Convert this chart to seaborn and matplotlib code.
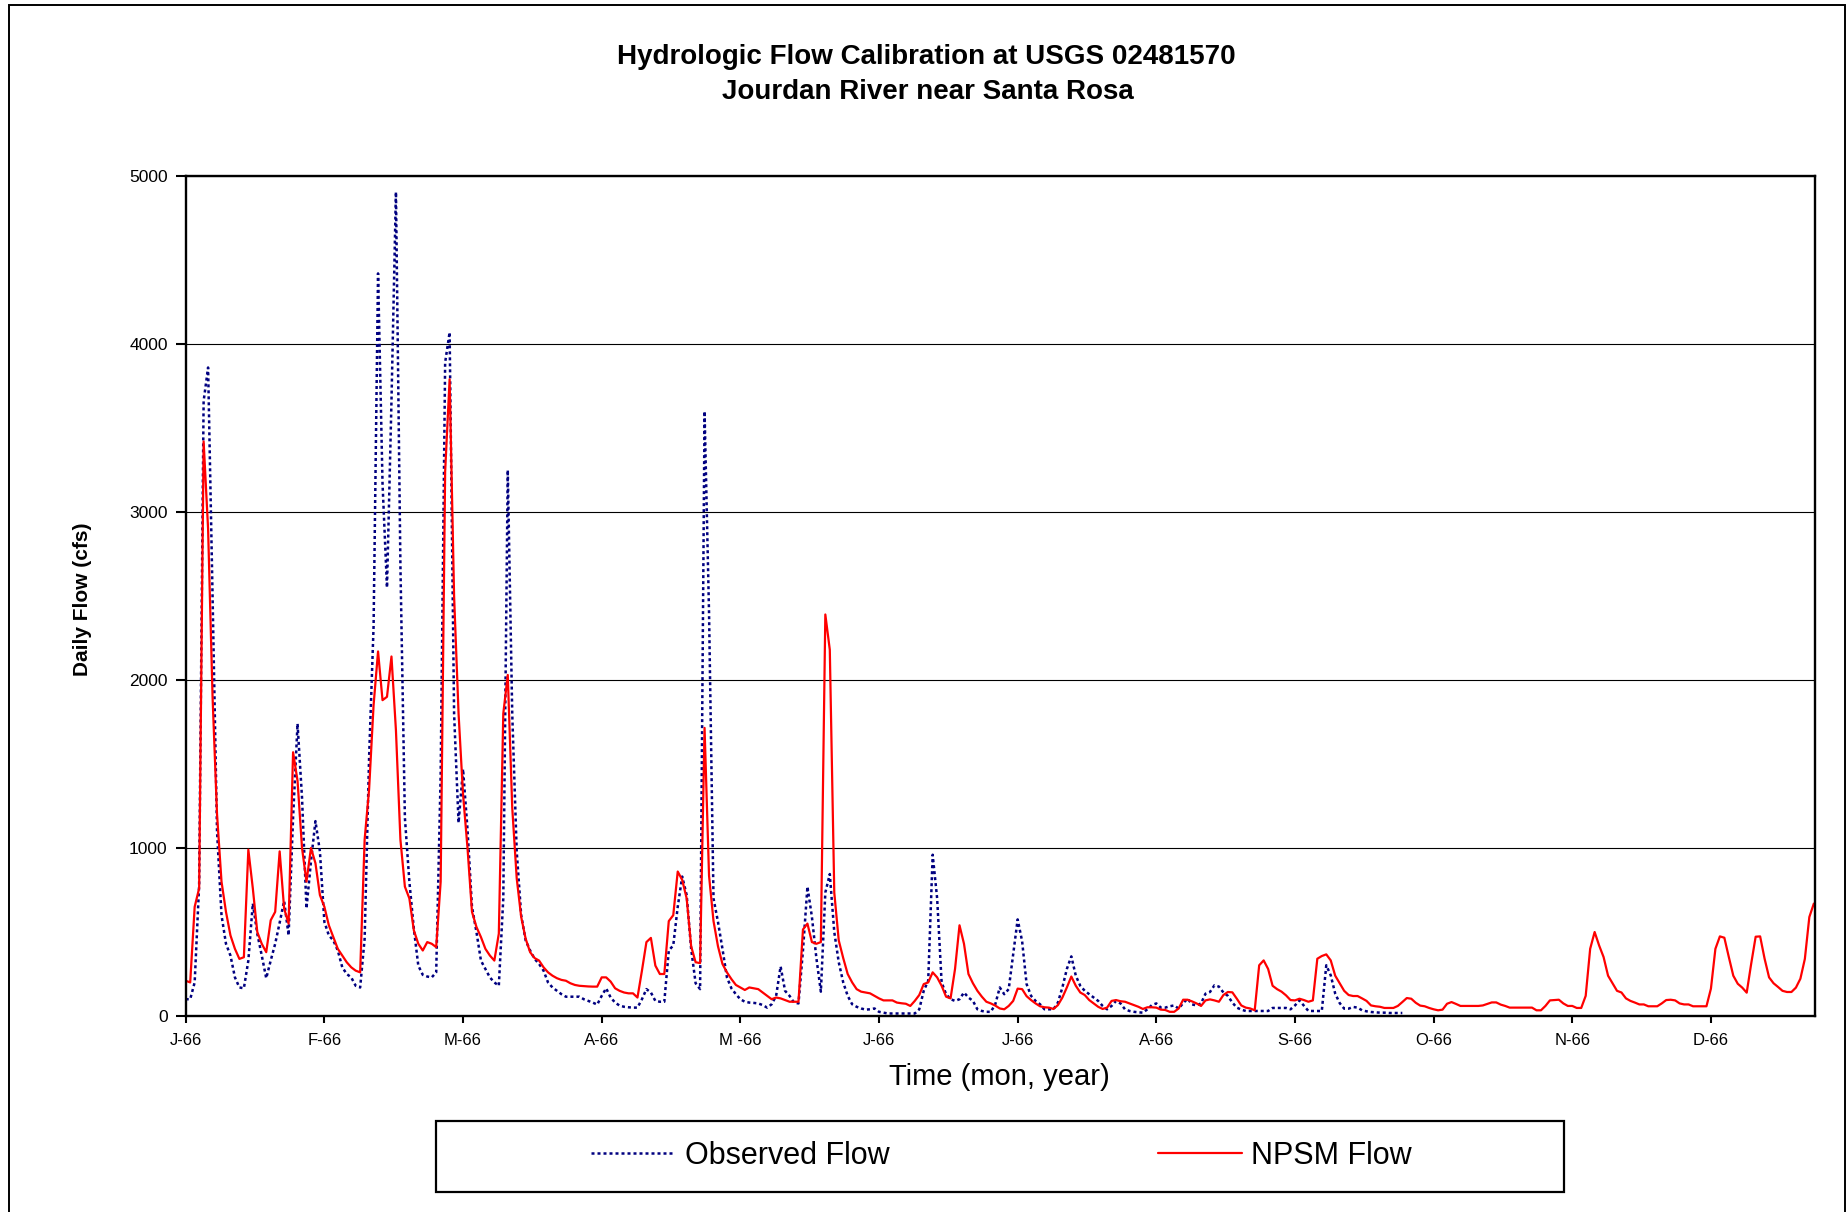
import numpy as np
import pandas as pd
import seaborn as sns
import matplotlib
matplotlib.use("Agg")
import matplotlib.pyplot as plt
from matplotlib.patches import Rectangle

# Daily flows (cfs), 1966
npsm_jan = [210, 200, 650, 760, 3420, 2900, 1900, 1200, 800, 620, 480, 400, 340, 350, 990, 760,
            500, 430, 380, 570, 620, 980, 640, 550, 1570, 1400, 1000, 800, 1000, 910, 720]
npsm_feb = [650, 540, 470, 400, 360, 320, 290, 270, 260, 1050, 1350, 1850, 2170, 1880, 1900,
            2140, 1700, 1050, 770, 700, 510, 430, 390, 440, 430, 410, 800, 3240]
npsm_mar = [3790, 2500, 1800, 1320, 1000, 620, 530, 470, 400, 360, 330, 490, 1800, 2030, 1240,
            820, 590, 460, 380, 345, 330, 290, 260, 240, 225, 215, 210, 195, 185, 180, 178]
npsm_apr = [176, 175, 175, 230, 230, 205, 165, 150, 140, 135, 135, 110, 270, 440, 465, 300,
            250, 250, 565, 600, 860, 810, 700, 415, 320, 315, 1715, 835, 565, 415]
npsm_may = [310, 260, 220, 185, 170, 155, 170, 165, 160, 140, 120, 100, 110, 105, 95, 85, 85,
            85, 515, 550, 440, 430, 440, 2390, 2180, 735, 450, 345, 250, 200, 160]
npsm_jun = [145, 140, 135, 120, 105, 93, 93, 93, 80, 76, 73, 60, 90, 125, 190, 200, 260, 230,
            180, 115, 105, 280, 540, 430, 250, 195, 150, 115, 85, 75]
npsm_jul = [62, 45, 40, 60, 90, 163, 160, 118, 95, 75, 58, 52, 50, 42, 65, 110, 170, 235, 180,
            140, 125, 95, 75, 55, 42, 50, 90, 95, 88, 85, 75]
npsm_aug = [65, 55, 42, 52, 52, 50, 38, 36, 25, 25, 45, 97, 97, 87, 75, 60, 93, 99, 93, 85, 125,
            143, 141, 103, 63, 50, 45, 34, 302, 331, 280]
npsm_sep = [180, 160, 145, 123, 95, 93, 103, 95, 85, 93, 341, 357, 367, 331, 240, 195, 150, 125,
            119, 119, 105, 90, 63, 58, 55, 48, 48, 48, 60, 83]
npsm_oct = [107, 103, 79, 62, 58, 48, 40, 34, 38, 73, 83, 72, 60, 60, 60, 60, 60, 63, 72, 81, 81,
            68, 60, 50, 50, 50, 50, 50, 50, 34, 34]
npsm_nov = [60, 93, 95, 97, 75, 60, 60, 48, 48, 120, 400, 500, 420, 351, 240, 195, 150, 140, 105,
            90, 80, 69, 69, 58, 58, 58, 75, 95, 97, 93]
npsm_dec = [75, 69, 69, 58, 58, 58, 58, 163, 400, 474, 466, 351, 240, 192, 169, 139, 311, 472,
            474, 341, 230, 195, 173, 150, 143, 143, 169, 222, 340, 589, 669]

obs_jan = [100, 100, 200, 780, 3660, 3860, 2500, 1100, 600, 430, 360, 230, 170, 165, 330, 670,
           490, 360, 225, 330, 430, 555, 685, 480, 1180, 1740, 1300, 640, 920, 1160, 980]
obs_feb = [560, 480, 450, 390, 290, 250, 230, 180, 170, 460, 1540, 2320, 4420, 3170, 2550, 3660,
           4905, 2680, 1180, 800, 520, 300, 245, 235, 230, 260, 1440, 3890]
obs_mar = [4070, 1800, 1150, 1470, 1110, 650, 500, 330, 280, 230, 200, 180, 700, 3250, 1800, 980,
           600, 450, 390, 340, 310, 270, 200, 170, 150, 130, 115, 115, 115, 115, 100]
obs_apr = [90, 80, 68, 120, 165, 110, 80, 62, 55, 52, 50, 50, 100, 160, 140, 90, 85, 85, 390, 420,
           650, 830, 720, 400, 195, 160, 3600, 2400, 700, 560]
obs_may = [400, 230, 165, 130, 100, 85, 80, 78, 75, 65, 50, 70, 120, 295, 150, 120, 80, 75, 390,
           770, 590, 345, 145, 735, 845, 500, 320, 200, 120, 70, 55]
obs_jun = [45, 38, 40, 45, 25, 20, 15, 15, 15, 15, 15, 15, 15, 40, 150, 210, 960, 700, 200, 130,
           100, 90, 100, 140, 110, 90, 40, 30, 25, 25]
obs_jul = [70, 170, 130, 160, 365, 575, 445, 190, 120, 90, 70, 40, 40, 40, 80, 170, 280, 355, 240,
           180, 150, 130, 110, 90, 60, 40, 60, 90, 75, 40, 30]
obs_aug = [25, 22, 20, 40, 65, 75, 50, 50, 58, 63, 44, 77, 103, 69, 63, 75, 133, 143, 183, 175,
           140, 120, 80, 50, 38, 30, 30, 30, 30, 30, 30]
obs_sep = [48, 48, 48, 48, 40, 63, 93, 62, 30, 30, 30, 30, 302, 242, 133, 77, 44, 44, 54, 50, 34,
           28, 24, 22, 20, 20, 18, 18, 18, 18]

tick_labels = ["J-66", "F-66", "M-66", "A-66", "M -66", "J-66", "J-66", "A-66", "S-66", "O-66",
               "N-66", "D-66"]
y_ticks = [0, 1000, 2000, 3000, 4000, 5000]

npsm = np.concatenate([npsm_jan, npsm_feb, npsm_mar, npsm_apr, npsm_may, npsm_jun,
                       npsm_jul, npsm_aug, npsm_sep, npsm_oct, npsm_nov, npsm_dec])
obs = np.concatenate([obs_jan, obs_feb, obs_mar, obs_apr, obs_may, obs_jun,
                      obs_jul, obs_aug, obs_sep])

dates = pd.date_range("1966-01-01", periods=len(npsm), freq="D")
df_npsm = pd.DataFrame({"date": dates, "flow": npsm})
df_obs = pd.DataFrame({"date": dates[:len(obs)], "flow": obs})

sns.set_style("white")
plt.rcParams["font.family"] = ["Liberation Sans", "DejaVu Sans"]
plt.rcParams["text.color"] = "black"
plt.rcParams["xtick.color"] = "black"
plt.rcParams["ytick.color"] = "black"
plt.rcParams["axes.labelcolor"] = "black"

fig = plt.figure(figsize=(18.48, 12.12), dpi=100)
ax = fig.add_axes([0.1005, 0.1617, 0.8816, 0.6931])

sns.lineplot(data=df_obs, x="date", y="flow", ax=ax, color="#000080", lw=1.8,
             linestyle=(0, (1.2, 1.2)), label="Observed Flow")
sns.lineplot(data=df_npsm, x="date", y="flow", ax=ax, color="#FF0000", lw=1.6,
             label="NPSM Flow")

handles, labels = ax.get_legend_handles_labels()
ax.get_legend().remove()

ax.set_xlim(dates[0], dates[-1] + pd.Timedelta(hours=6))
ax.set_ylim(0, 5000)
ax.set_yticks(y_ticks)
ax.set_yticklabels([str(v) for v in y_ticks], fontsize=12.5)
tick_dates = [dates[0] + pd.Timedelta(days=31 * k) for k in range(len(tick_labels))]
ax.set_xticks(tick_dates)
ax.set_xticklabels(tick_labels, fontsize=12)
ax.tick_params(axis="y", direction="out", length=7, width=1.5, pad=6, left=True,
               colors="black")
ax.tick_params(axis="x", direction="out", length=5, width=1.5, pad=7, bottom=True,
               colors="black")
ax.set_xlabel("")
ax.set_ylabel("")

ax.yaxis.grid(True, color="black", lw=0.8)
ax.xaxis.grid(False)
ax.set_axisbelow(True)
for s in ax.spines.values():
    s.set_visible(True)
    s.set_color("black")
    s.set_linewidth(1.7)

fig.text(0.501, 0.953, "Hydrologic Flow Calibration at USGS 02481570", ha="center", va="center",
         fontsize=20, fontweight="bold", color="black")
fig.text(0.502, 0.924, "Jourdan River near Santa Rosa", ha="center", va="center",
         fontsize=20, fontweight="bold", color="black")
fig.text(0.0444, 0.5058, "Daily Flow (cfs)", rotation=90, ha="center", va="center",
         fontsize=15, fontweight="bold", color="black")
fig.text(0.541, 0.1114, "Time (mon, year)", ha="center", va="center", fontsize=21,
         color="black")

# legend box and outer frame
fig.patches.append(Rectangle((0.236, 0.0165), 0.6104, 0.0586, transform=fig.transFigure,
                             fill=False, ec="black", lw=1.6))
fig.patches.append(Rectangle((0.0049, -0.01), 0.9935, 1.0059, transform=fig.transFigure,
                             fill=False, ec="black", lw=1.4, clip_on=False))
leg = fig.legend(handles, labels, loc="center", bbox_to_anchor=(0.542, 0.0462), ncol=2,
                 frameon=False, fontsize=22, handlelength=2.75, handletextpad=0.3,
                 columnspacing=8.8)
for t in leg.get_texts():
    t.set_color("black")

fig.savefig("out.png", dpi=100)
